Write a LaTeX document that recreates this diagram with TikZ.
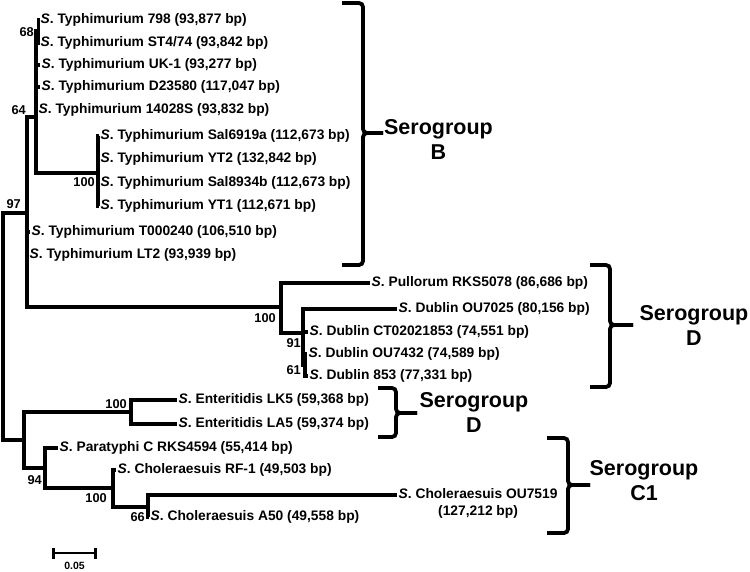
\documentclass[tikz,border=0pt]{standalone}
\usepackage{fontspec}
\setmainfont{Liberation Sans}
\usetikzlibrary{arrows.meta}
\newcommand{\sname}{\textit{S}.}

\begin{document}
\begin{tikzpicture}[x=1pt,y=-1pt,
    branch/.style={draw=black,line width=3.2pt},
    leaf/.style={anchor=west,inner sep=1.5pt,font=\bfseries\fontsize{13.8}{17}\selectfont},
    boot/.style={anchor=east,inner sep=0pt,font=\bfseries\fontsize{12.8}{14}\selectfont},
    brace/.style={line width=3.8pt,rounded corners=4pt},
    group/.style={align=center,inner sep=0pt,font=\bfseries\fontsize{21.5}{25}\selectfont}]
  \useasboundingbox (0,0) rectangle (750,571);

  % internal nodes
  \coordinate (root) at (3,326);
  \coordinate (n97)  at (27,213);
  \coordinate (n64)  at (36,117);
  \coordinate (n68)  at (38.5,31);
  \coordinate (nSal) at (98,173);
  \coordinate (nDub) at (281,307);
  \coordinate (n91)  at (303,333);
  \coordinate (n61)  at (305,365);
  \coordinate (nGrp) at (24,440);
  \coordinate (nEnt) at (131,412);
  \coordinate (n94)  at (45,468);
  \coordinate (nCho) at (113,488);
  \coordinate (n66)  at (148,507);

  % leaves
  \node[leaf] (t798) at (39,20)  {\sname{} Typhimurium 798 (93,877 bp)};
  \node[leaf] (tST)  at (39,43)  {\sname{} Typhimurium ST4/74 (93,842 bp)};
  \node[leaf] (tUK)  at (40,65)  {\sname{} Typhimurium UK-1 (93,277 bp)};
  \node[leaf] (tD23) at (40,87)  {\sname{} Typhimurium D23580 (117,047 bp)};
  \node[leaf] (t140) at (37,110) {\sname{} Typhimurium 14028S (93,832 bp)};
  \node[leaf] (tS69) at (99,136) {\sname{} Typhimurium Sal6919a (112,673 bp)};
  \node[leaf] (tYT2) at (99,159) {\sname{} Typhimurium YT2 (132,842 bp)};
  \node[leaf] (tS89) at (99,183) {\sname{} Typhimurium Sal8934b (112,673 bp)};
  \node[leaf] (tYT1) at (99,206) {\sname{} Typhimurium YT1 (112,671 bp)};
  \node[leaf] (tT24) at (30,232) {\sname{} Typhimurium T000240 (106,510 bp)};
  \node[leaf] (tLT2) at (28,255) {\sname{} Typhimurium LT2 (93,939 bp)};
  \node[leaf] (tPul) at (370,283) {\sname{} Pullorum RKS5078 (86,686 bp)};
  \node[leaf] (tO70) at (397,309) {\sname{} Dublin OU7025 (80,156 bp)};
  \node[leaf] (tCT)  at (308,332) {\sname{} Dublin CT02021853 (74,551 bp)};
  \node[leaf] (tO74) at (307,354) {\sname{} Dublin OU7432 (74,589 bp)};
  \node[leaf] (t853) at (308,376) {\sname{} Dublin 853 (77,331 bp)};
  \node[leaf] (tLK5) at (177,400) {\sname{} Enteritidis LK5 (59,368 bp)};
  \node[leaf] (tLA5) at (177,424) {\sname{} Enteritidis LA5 (59,374 bp)};
  \node[leaf] (tPar) at (58,448)  {\sname{} Paratyphi C RKS4594 (55,414 bp)};
  \node[leaf] (tRF1) at (116,470) {\sname{} Choleraesuis RF-1 (49,503 bp)};
  \node[leaf,align=center] (tO75) at (397,503.5)
    {\sname{} Choleraesuis OU7519\\(127,212 bp)};
  \node[leaf] (tA50) at (149,517) {\sname{} Choleraesuis A50 (49,558 bp)};

  % branches
  \draw[branch] (root) |- (n97);
  \draw[branch] (root) |- (nGrp);
  \foreach \c in {n64,tT24,tLT2,nDub} \draw[branch] (n97) |- (\c);
  \foreach \c in {n68,tUK,tD23,t140,nSal} \draw[branch] (n64) |- (\c);
  \foreach \c in {t798,tST} \draw[branch] (n68) |- (\c);
  \foreach \c in {tS69,tYT2,tS89,tYT1} \draw[branch] (nSal) |- (\c);
  \foreach \c in {tPul,n91} \draw[branch] (nDub) |- (\c);
  \foreach \c in {tO70,tCT,n61} \draw[branch] (n91) |- (\c);
  \foreach \c in {tO74,t853} \draw[branch] (n61) |- (\c);
  \foreach \c in {nEnt,n94} \draw[branch] (nGrp) |- (\c);
  \foreach \c in {tLK5,tLA5} \draw[branch] (nEnt) |- (\c);
  \foreach \c in {tPar,nCho} \draw[branch] (n94) |- (\c);
  \foreach \c in {tRF1,n66} \draw[branch] (nCho) |- (\c);
  \draw[branch] (n66) |- ([yshift=8.5pt]tO75.west);
  \draw[branch] (n66) |- (tA50);

  % bootstrap values
  \node[boot] (b68)  at (34,32)   {68};
  \node[boot] (b64)  at (26,110)  {64};
  \node[boot] (b97)  at (21,204)  {97};
  \node[boot] (bSal) at (95,182)  {100};
  \node[boot] (bDub) at (276,318) {100};
  \node[boot] (b91)  at (301,343) {91};
  \node[boot] (b61)  at (301,370) {61};
  \node[boot] (bEnt) at (127,404) {100};
  \node[boot] (b94)  at (42,480)  {94};
  \node[boot] (bCho) at (107,498) {100};
  \node[boot] (b66)  at (145,517) {66};

  % scale bar
  \coordinate (sbL) at (52,553);
  \coordinate (sbR) at (97,553);
  \draw[line width=2.6pt,{Bar[width=11pt]}-{Bar[width=11pt]}] (sbL) -- (sbR);
  \node[font=\bfseries\fontsize{10.5}{12}\selectfont] (sbT) at (74.5,566) {0.05};

  % serogroup braces
  \draw[brace] (342,3) -| (363,133) -- (383,133);
  \draw[brace] (383,133) -| (363,265) -- (342,265);
  \node[group] (gB) at (438.5,139) {Serogroup\\B};

  \draw[brace] (590,265) -| (610,325) -- (633,325);
  \draw[brace] (633,325) -| (610,387) -- (590,387);
  \node[group] (gD1) at (694,325) {Serogroup\\D};

  \draw[brace] (378,388) -| (396,413) -- (417,413);
  \draw[brace] (417,413) -| (396,437) -- (378,437);
  \node[group] (gD2) at (474,412) {Serogroup\\D};

  \draw[brace] (547,438) -| (568,485) -- (590,485);
  \draw[brace] (590,485) -| (568,533) -- (547,533);
  \node[group] (gC1) at (644,481) {Serogroup\\C1};
\end{tikzpicture}
\end{document}
